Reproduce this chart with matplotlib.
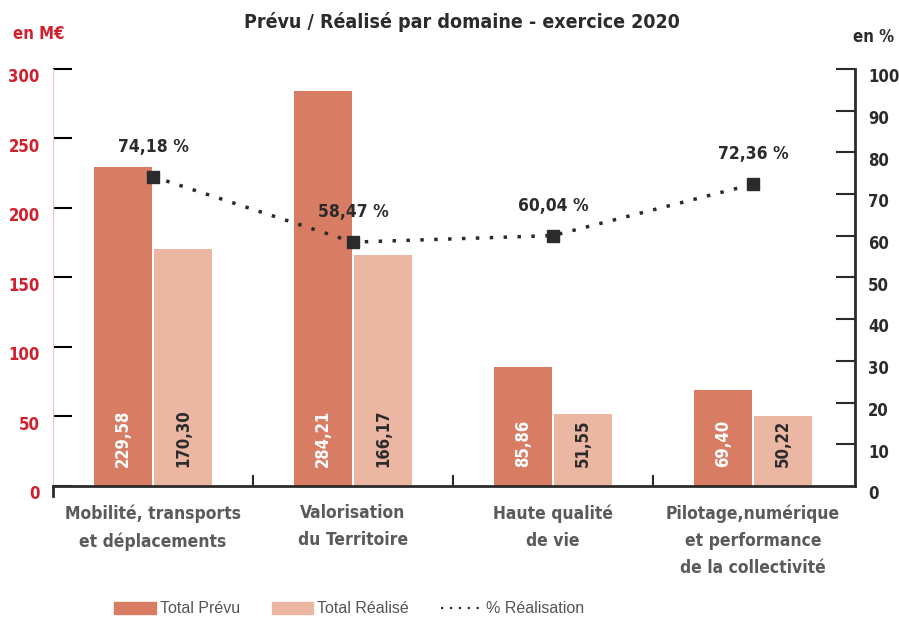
import numpy as np
import matplotlib.pyplot as plt
from matplotlib.lines import Line2D
from matplotlib.patches import Patch
from matplotlib.transforms import ScaledTranslation

categories = ['Mobilité, transports\net déplacements', 'Valorisation\ndu Territoire',
              'Haute qualité\nde vie', 'Pilotage,numérique\net performance\nde la collectivité']
prevu = [229.58, 284.21, 85.86, 69.40]
realise = [170.30, 166.17, 51.55, 50.22]
taux = [74.18, 58.47, 60.04, 72.36]

def fr(v):
    return f'{v:.2f}'.replace('.', ',')

cond = dict(family='DejaVu Sans', fontstretch='condensed', fontweight='bold')
red = '#d0202e'
dark = '#2b2b2b'
grey = '#5a5a5a'
c_prevu = '#d97c64'
c_real = '#ebb7a3'

fig = plt.figure(figsize=(8.99, 6.17), dpi=100)
ax = fig.add_axes([0.059, 0.2123, 0.892, 0.676])
x = np.arange(len(categories))
w = 0.29

ax.bar(x - w/2 - 0.005, prevu, w, color=c_prevu, zorder=2)
ax.bar(x + w/2 + 0.005, realise, w, color=c_real, zorder=2)
for i in range(len(x)):
    ax.text(x[i] - w/2 - 0.005, 14, fr(prevu[i]), rotation=90, ha='center', va='bottom',
            color='white', fontsize=12, **cond)
    ax.text(x[i] + w/2 + 0.005, 14, fr(realise[i]), rotation=90, ha='center', va='bottom',
            color=dark, fontsize=12, **cond)

# tick labels sit a little below their ticks in the original
shift = ScaledTranslation(0, -4.5 / 72, fig.dpi_scale_trans)

ax.set_xlim(-0.5, 3.51)
ax.set_ylim(0, 300)
ax.set_yticks(range(0, 301, 50))
ax.set_yticklabels([str(v) for v in range(0, 301, 50)], color=red, fontsize=12, **cond)
ax.tick_params(axis='y', direction='in', length=14, width=1.5, pad=9.5)
for t, v in zip(ax.yaxis.get_major_ticks(), range(0, 301, 50)):
    t.tick1line.set_color('#efc4c4' if v % 100 == 0 else dark)
    if v == 0:
        t.tick1line.set_visible(False)
for lab in ax.get_yticklabels():
    lab.set_transform(lab.get_transform() + shift)
ax.set_xticks([])
for s in ['top', 'right']:
    ax.spines[s].set_visible(False)
ax.spines['left'].set_color('#efc4c4')
ax.spines['bottom'].set_color(dark)
ax.spines['bottom'].set_linewidth(2)

# separators between categories
for sx in [0.5, 1.5, 2.5]:
    ax.plot([sx, sx], [0, 7], color=dark, lw=1.5, clip_on=False, zorder=3)
ax.plot([-0.5, -0.5], [0, -7], color=dark, lw=2, clip_on=False)

for i, lab in enumerate(categories):
    ax.text(x[i], -13, lab, ha='center', va='top', color=grey, fontsize=12.5,
            linespacing=1.65, **cond)

ax2 = ax.twinx()
ax2.set_ylim(0, 100)
ax2.set_yticks(range(0, 101, 10))
ax2.set_yticklabels([str(v) for v in range(0, 101, 10)], color=dark, fontsize=12, **cond)
ax2.tick_params(axis='y', direction='in', length=14, width=1.5, pad=9.5, colors=dark)
ax2.yaxis.get_major_ticks()[0].tick2line.set_visible(False)
for lab in ax2.get_yticklabels():
    lab.set_transform(lab.get_transform() + shift)
for s in ['top', 'left', 'bottom']:
    ax2.spines[s].set_visible(False)
ax2.spines['right'].set_color(dark)
ax2.spines['right'].set_linewidth(2)

ax2.plot(x, taux, color=dark, ls=(0, (1, 3)), lw=2.5, marker='s', ms=9, zorder=4)
for i in range(len(x)):
    ax2.text(x[i], taux[i] + 5, fr(taux[i]) + ' %', ha='center', va='bottom', color=dark,
             fontsize=12.5, **cond)

fig.text(0.514, 0.964, 'Prévu / Réalisé par domaine - exercice 2020', ha='center', va='center',
         color=dark, fontsize=14, **cond)
fig.text(0.014, 0.945, 'en M€', ha='left', va='center', color=red, fontsize=12, **cond)
fig.text(0.995, 0.94, 'en %', ha='right', va='center', color=dark, fontsize=12, **cond)

handles = [Patch(color=c_prevu), Patch(color=c_real),
           Line2D([], [], color=dark, ls=(0, (1, 3)), lw=1.6)]
fig.legend(handles, ['Total Prévu', 'Total Réalisé', '% Réalisation'], loc='center left',
           bbox_to_anchor=(0.111, 0.013), ncol=3, frameon=False,
           handlelength=2.6, handleheight=0.75, columnspacing=2.0, handletextpad=0.25,
           labelcolor='#555555', prop={'family': ['Liberation Sans', 'DejaVu Sans'], 'size': 11.5})

fig.savefig('out.png', dpi=100)
